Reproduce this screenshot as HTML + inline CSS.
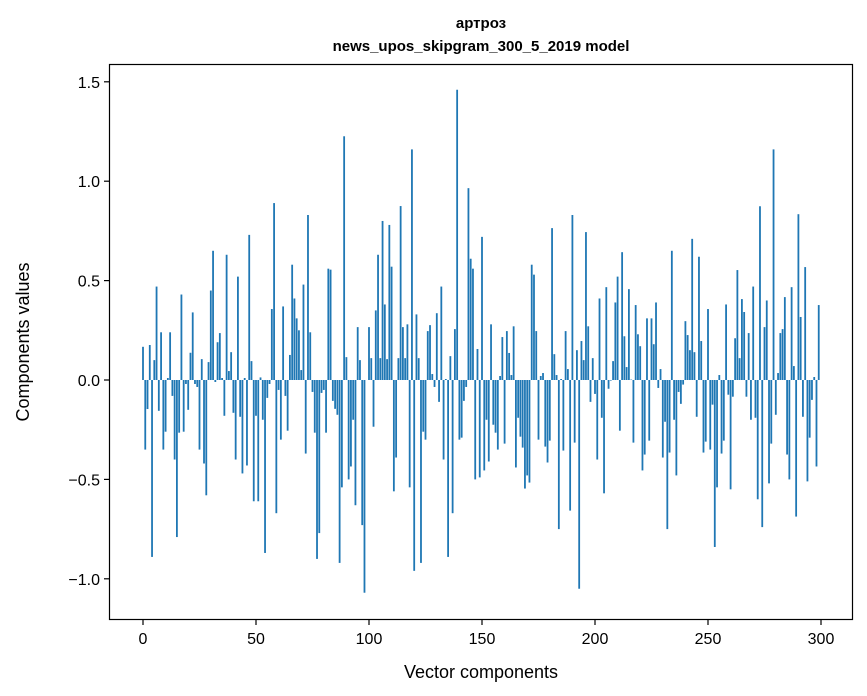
<!DOCTYPE html>
<html><head><meta charset="utf-8"><style>
html,body{margin:0;padding:0;background:#fff;}
svg{display:block;font-family:"Liberation Sans","DejaVu Sans",sans-serif;}
</style></head><body>
<svg id="c" width="867" height="696" viewBox="0 0 867 696" xmlns="http://www.w3.org/2000/svg">
<rect width="867" height="696" fill="#fff"/>
<g id="bars" fill="#1f77b4"></g>
<rect x="109.5" y="64.5" width="743" height="555" fill="none" stroke="#000" stroke-width="1.2"/>
<g id="ticks" stroke="#000" stroke-width="1.2"></g>
<g id="labels" font-size="16" fill="#000"></g>
<text x="481" y="28" font-size="15" font-weight="bold" text-anchor="middle">артроз</text>
<text x="481" y="51" font-size="15" font-weight="bold" text-anchor="middle">news_upos_skipgram_300_5_2019 model</text>
<text x="481" y="678" font-size="18" text-anchor="middle">Vector components</text>
<text transform="translate(29,342) rotate(-90)" font-size="18" text-anchor="middle">Components values</text>
</svg>
<script>
var v=[0.167,-0.35,-0.146,0.176,-0.89,0.1,0.47,-0.155,0.24,-0.35,-0.26,0.01,0.24,-0.08,-0.4,-0.79,-0.265,0.43,-0.26,-0.02,-0.15,0.137,0.34,-0.02,-0.035,-0.35,0.105,-0.42,-0.58,0.09,0.45,0.65,-0.01,0.19,0.236,0.01,-0.18,0.63,0.045,0.14,-0.165,-0.4,0.52,-0.185,-0.47,0.01,-0.43,0.73,0.095,-0.61,
-0.18,-0.61,0.013,-0.2,-0.87,-0.09,-0.02,0.357,0.89,-0.67,-0.05,-0.3,0.37,-0.08,-0.255,0.126,0.58,0.41,0.31,0.25,0.05,0.48,-0.37,0.83,0.24,-0.06,-0.265,-0.9,-0.77,-0.065,-0.05,-0.265,0.56,0.555,-0.105,-0.145,-0.175,-0.92,-0.54,1.226,0.115,-0.5,-0.435,-0.2,-0.63,0.266,0.1,-0.73,-1.07,
0,
0.266,0.11,-0.235,0.35,0.63,0.11,0.8,0.38,0.105,0.78,0.57,-0.56,-0.39,0.11,0.875,0.266,0.11,0.28,-0.54,1.16,-0.96,0.33,0.11,-0.92,-0.26,-0.3,0.246,0.276,0.03,-0.035,0.336,-0.11,0.47,-0.4,0.005,-0.89,0.12,-0.67,0.256,1.46,-0.3,-0.29,-0.105,-0.035,0.965,0.61,0.56,-0.5,0.156,
-0.49,0.72,-0.455,-0.2,-0.41,0.28,-0.225,-0.265,-0.35,0.02,0.216,-0.32,0.246,0.136,0.025,0.27,-0.44,-0.19,-0.285,-0.34,-0.546,-0.48,-0.516,0.58,0.53,0.246,-0.3,0.02,0.035,-0.335,-0.415,-0.305,0.764,0.13,0.025,-0.75,0.005,-0.355,0.246,0.055,-0.657,0.83,-0.315,0.15,-1.05,0.196,0.1,0.744,0.27,
-0.11,0.11,-0.07,-0.4,0.41,-0.19,-0.57,0.467,-0.044,-0.003,0.095,0.39,0.52,-0.255,0.643,0.22,0.065,0.457,0.002,-0.315,0.377,0.23,0.17,-0.455,-0.375,0.31,-0.305,0.31,0.18,0.39,-0.04,0.055,-0.39,-0.21,-0.75,-0.365,0.65,-0.2,-0.48,-0.06,-0.12,-0.023,0.296,0.226,0.15,0.71,0.14,-0.185,0.62,0.196,
-0.365,-0.31,0.357,-0.35,-0.124,-0.84,-0.54,0.025,-0.37,-0.305,0.38,-0.074,-0.55,-0.084,0.21,0.553,0.11,0.407,0.342,-0.084,0.236,-0.2,0.47,-0.19,-0.6,0.874,-0.74,0.266,0.4,-0.52,-0.32,1.16,-0.175,0.035,0.236,0.256,0.417,-0.375,-0.5,0.467,0.07,-0.687,0.834,0.317,-0.185,0.568,-0.51,-0.29,-0.1,0.015,-0.435,0.377];
var ns="http://www.w3.org/2000/svg";
function X(i){return 143+i*2.26;}
function Y(y){return 380-y*198.8;}
var g=document.getElementById('bars');
for(var i=0;i<v.length&&i<300;i++){var r=document.createElementNS(ns,'rect');var y0=Y(0),y1=Y(v[i]);
r.setAttribute('x',(X(i)-0.9).toFixed(2));r.setAttribute('width','1.8');r.setAttribute('y',Math.min(y0,y1).toFixed(2));r.setAttribute('height',Math.abs(y1-y0).toFixed(2));g.appendChild(r);}
var t=document.getElementById('ticks'),L=document.getElementById('labels');
function line(x1,y1,x2,y2){var l=document.createElementNS(ns,'line');l.setAttribute('x1',x1);l.setAttribute('y1',y1);l.setAttribute('x2',x2);l.setAttribute('y2',y2);t.appendChild(l);}
function txt(x,y,s,a){var e=document.createElementNS(ns,'text');e.setAttribute('x',x);e.setAttribute('y',y);e.setAttribute('text-anchor',a);e.textContent=s;L.appendChild(e);}
for(var k=0;k<=300;k+=50){var x=X(k);line(x,619.5,x,625);txt(x,644,String(k),'middle');}
[1.5,1.0,0.5,0.0,-0.5,-1.0].forEach(function(y){var p=Y(y);line(104,p,109.5,p);txt(100,p+6,(y<0?'\u2212':'')+Math.abs(y).toFixed(1),'end');});
</script>
</body></html>
